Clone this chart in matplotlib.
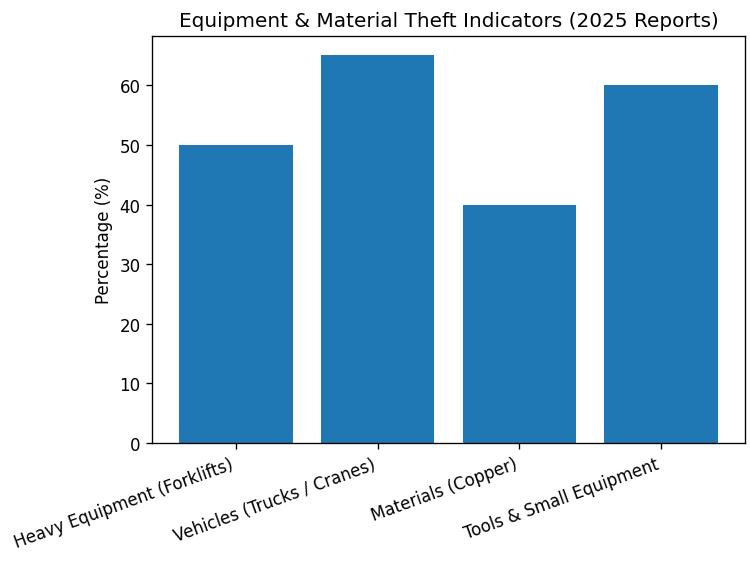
import matplotlib
matplotlib.use("Agg")
import matplotlib.pyplot as plt

# Theft indicators by category
categories = [
    "Heavy Equipment (Forklifts)",
    "Vehicles (Trucks / Cranes)",
    "Materials (Copper)",
    "Tools & Small Equipment",
]
percentages = [50, 65, 40, 60]

fig, ax = plt.subplots(figsize=(6.25, 4.6833), dpi=120)
ax.bar(categories, percentages, color="#1f77b4")
ax.set_title("Equipment & Material Theft Indicators (2025 Reports)")
ax.set_ylabel("Percentage (%)")
plt.setp(ax.get_xticklabels(), rotation=20, ha="right")

fig.subplots_adjust(left=0.203, right=0.993, top=0.934, bottom=0.210)
plt.savefig("out.png")
